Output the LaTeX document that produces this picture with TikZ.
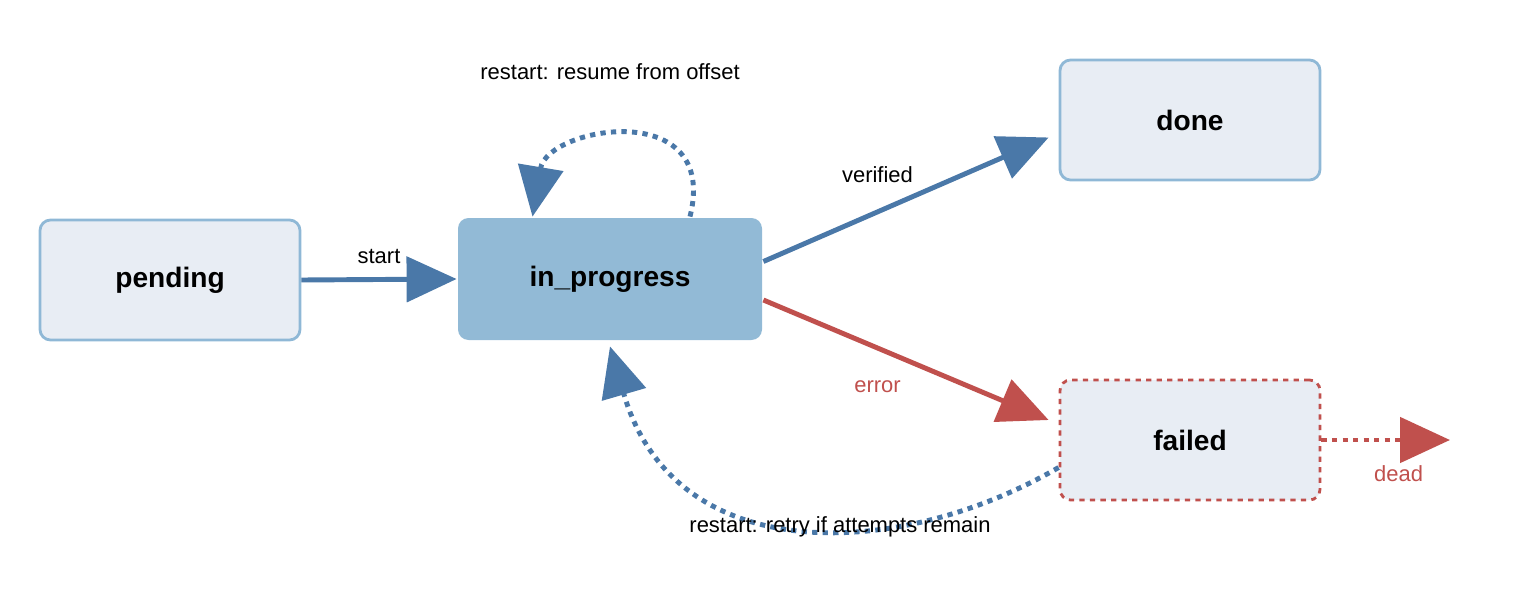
\documentclass[tikz,border=0pt]{standalone}
\usepackage{fontspec}
\setmainfont{Liberation Sans}
\usetikzlibrary{arrows.meta, positioning, calc}
\definecolor{flowblue}{HTML}{4A78A8}
\definecolor{flowred}{HTML}{C0504D}
\definecolor{boxfill}{HTML}{E8EDF4}
\definecolor{boxline}{HTML}{8FB8D6}
\definecolor{activefill}{HTML}{92BAD6}

\begin{document}
\begin{tikzpicture}[
    state/.style={draw=boxline, line width=1.6pt, fill=boxfill, rounded corners=6pt,
        minimum width=5.2cm, minimum height=2.4cm, font=\fontsize{16}{18}\selectfont\bfseries},
    flow/.style={line width=2.8pt, -{Triangle[length=1cm,width=0.9cm]}},
    lbl/.style={font=\fontsize{12.5}{14}\selectfont}
]
\useasboundingbox (0,0) rectangle (30.4,12);

\node[state] (pending) at (3.4,6.4) {pending};
\node[state, draw=none, fill=activefill, minimum width=6.08cm, minimum height=2.44cm] (inprog) at (12.2,6.42) {in\_progress};
\node[state] (done) at (23.8,9.6) {done};
\node[state, draw=flowred, dashed] (failed) at (23.8,3.2) {failed};
\coordinate (dead) at (29,3.2);

% transitions
\draw[flow, flowblue] (pending.east) -- (inprog.west) node[lbl, midway, above=4pt, black] {start};
\draw[flow, flowblue] ($(inprog.east)+(0,0.35)$) -- ($(done.west)+(-0.2,-0.35)$)
    node[lbl, pos=0.4, above=12pt, black] {verified};
\draw[flow, flowred] ($(inprog.east)+(0,-0.42)$) -- ($(failed.west)+(-0.2,0.4)$)
    node[lbl, pos=0.4, below=14pt, flowred] {error};
\draw[flow, flowred, dashed] (failed.east) -- (dead) node[lbl, pos=0.6, below=10pt] {dead};

% restarts
\draw[flow, flowblue, dashed] ($(inprog.north)+(1.6,0)$) .. controls +(0.6,2.4) and +(0.3,1.8) .. ($(inprog.north)+(-1.55,0)$);
\node[lbl] (resume) at (12.2,10.56) {restart: resume from offset};
\draw[flow, flowblue, dashed] ($(failed.west)+(0,-0.55)$) .. controls (18,0.8) and (13.5,0.6) .. ($(inprog.south)+(0,-0.1)$);
\node[lbl] (retry) at (16.8,1.46) {restart: retry if attempts remain};
\end{tikzpicture}
\end{document}
